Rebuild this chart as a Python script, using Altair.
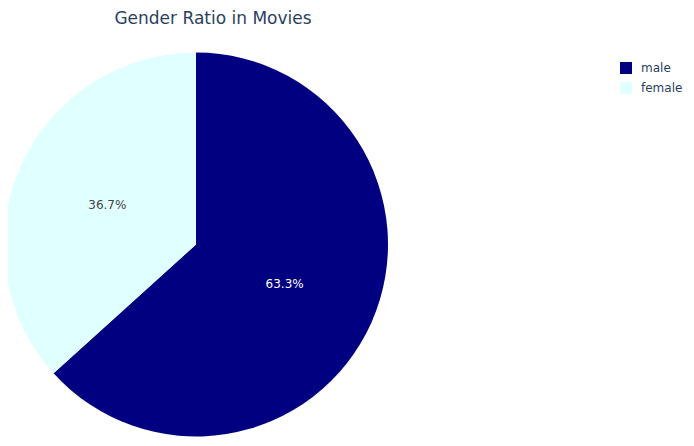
import altair as alt
import pandas as pd

genders = ["male", "female"]
shares = [63.3, 36.7]
colors = ["#000080", "#e0ffff"]
label_colors = ["#ffffff", "#444444"]
title_text = "Gender Ratio in Movies"

df = pd.DataFrame({
    "gender": genders,
    "share": shares,
    "order": list(range(len(genders))),
    "label": [f"{s:.1f}%" for s in shares],
    "lcolor": label_colors,
})

cx, cy = 188, 236.5

base = alt.Chart(df).encode(
    theta=alt.Theta("share:Q", stack=True),
    order=alt.Order("order:Q", sort="ascending"),
)

pie = base.mark_arc(radius=192).encode(
    x=alt.value(cx),
    y=alt.value(cy),
    color=alt.Color(
        "gender:N",
        scale=alt.Scale(domain=genders, range=colors),
        sort=genders,
        legend=alt.Legend(
            title=None,
            orient="none",
            legendX=612,
            legendY=54,
            symbolType="square",
            symbolSize=144,
            symbolStrokeWidth=0,
            labelFont="DejaVu Sans",
            labelFontSize=12,
            labelColor="#2a3f5f",
            labelOffset=9,
            rowPadding=8,
        ),
    ),
)

labels = base.mark_text(radius=97, font="DejaVu Sans", fontSize=12).encode(
    x=alt.value(cx),
    y=alt.value(cy),
    text="label:N",
    color=alt.Color("lcolor:N", scale=None, legend=None),
)

title_df = pd.DataFrame({"t": [title_text]})
title = alt.Chart(title_df).mark_text(
    font="DejaVu Sans", fontSize=17, color="#2a3f5f", align="center", baseline="middle"
).encode(x=alt.value(205), y=alt.value(10.5), text="t:N")

chart = alt.layer(pie, labels, title).properties(
    width=678,
    height=430,
    autosize=alt.AutoSizeParams(type="none"),
    padding=0,
).configure_view(stroke=None)

chart.save("out.html", embed_options={"renderer": "svg", "actions": False})
